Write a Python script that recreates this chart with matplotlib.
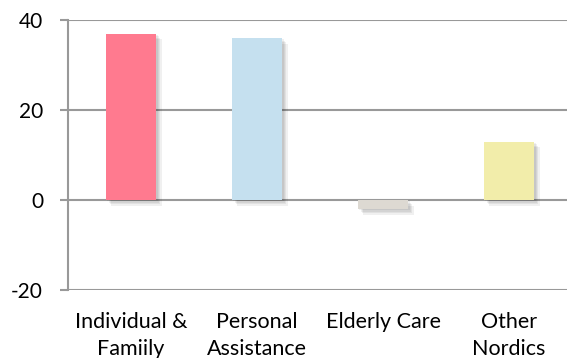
import matplotlib
matplotlib.use("Agg")
import matplotlib.pyplot as plt
import matplotlib.patheffects as pe

# chart data
categories = ["Individual &\nFamiily", "Personal\nAssistance", "Elderly Care", "Other\nNordics"]
values = [37, 36, -2, 13]
colours = ["#FF7A8F", "#C5E0EF", "#DDD9D2", "#F2EDAA"]
y_ticks = [-20, 0, 20, 40]

GRID = "#999999"

plt.rcParams["font.family"] = ["Lato", "DejaVu Sans"]
plt.rcParams["axes.unicode_minus"] = False

fig = plt.figure(figsize=(5.67, 3.58), dpi=100)
ax = fig.add_axes([0.12, 0.19, 0.889, 0.754])

# soft drop shadow, built from a few faint offset copies
shadow = [pe.SimplePatchShadow(offset=(o, -o), shadow_rgbFace="black", alpha=0.06)
          for o in (1, 2, 3, 4)] + [pe.Normal()]

x = range(len(categories))
ax.bar(x, values, width=0.4, color=colours, zorder=3, path_effects=shadow)

ax.set_xlim(-0.5, len(categories) - 0.5)
ax.set_ylim(-20, 40)
ax.set_yticks(y_ticks)
ax.yaxis.grid(True, color=GRID, linewidth=1.5, zorder=1)
ax.set_axisbelow(True)

for s in ["top", "right", "bottom"]:
    ax.spines[s].set_visible(False)
ax.spines["left"].set_color(GRID)
ax.spines["left"].set_linewidth(1.5)

ax.tick_params(axis="y", length=6, width=1.5, color=GRID, pad=12, labelsize=15)
ax.tick_params(axis="x", length=0, pad=16, labelsize=15.5)
ax.set_xticks(list(x))
ax.set_xticklabels(categories, linespacing=1.45)

fig.savefig("out.png", dpi=100)
